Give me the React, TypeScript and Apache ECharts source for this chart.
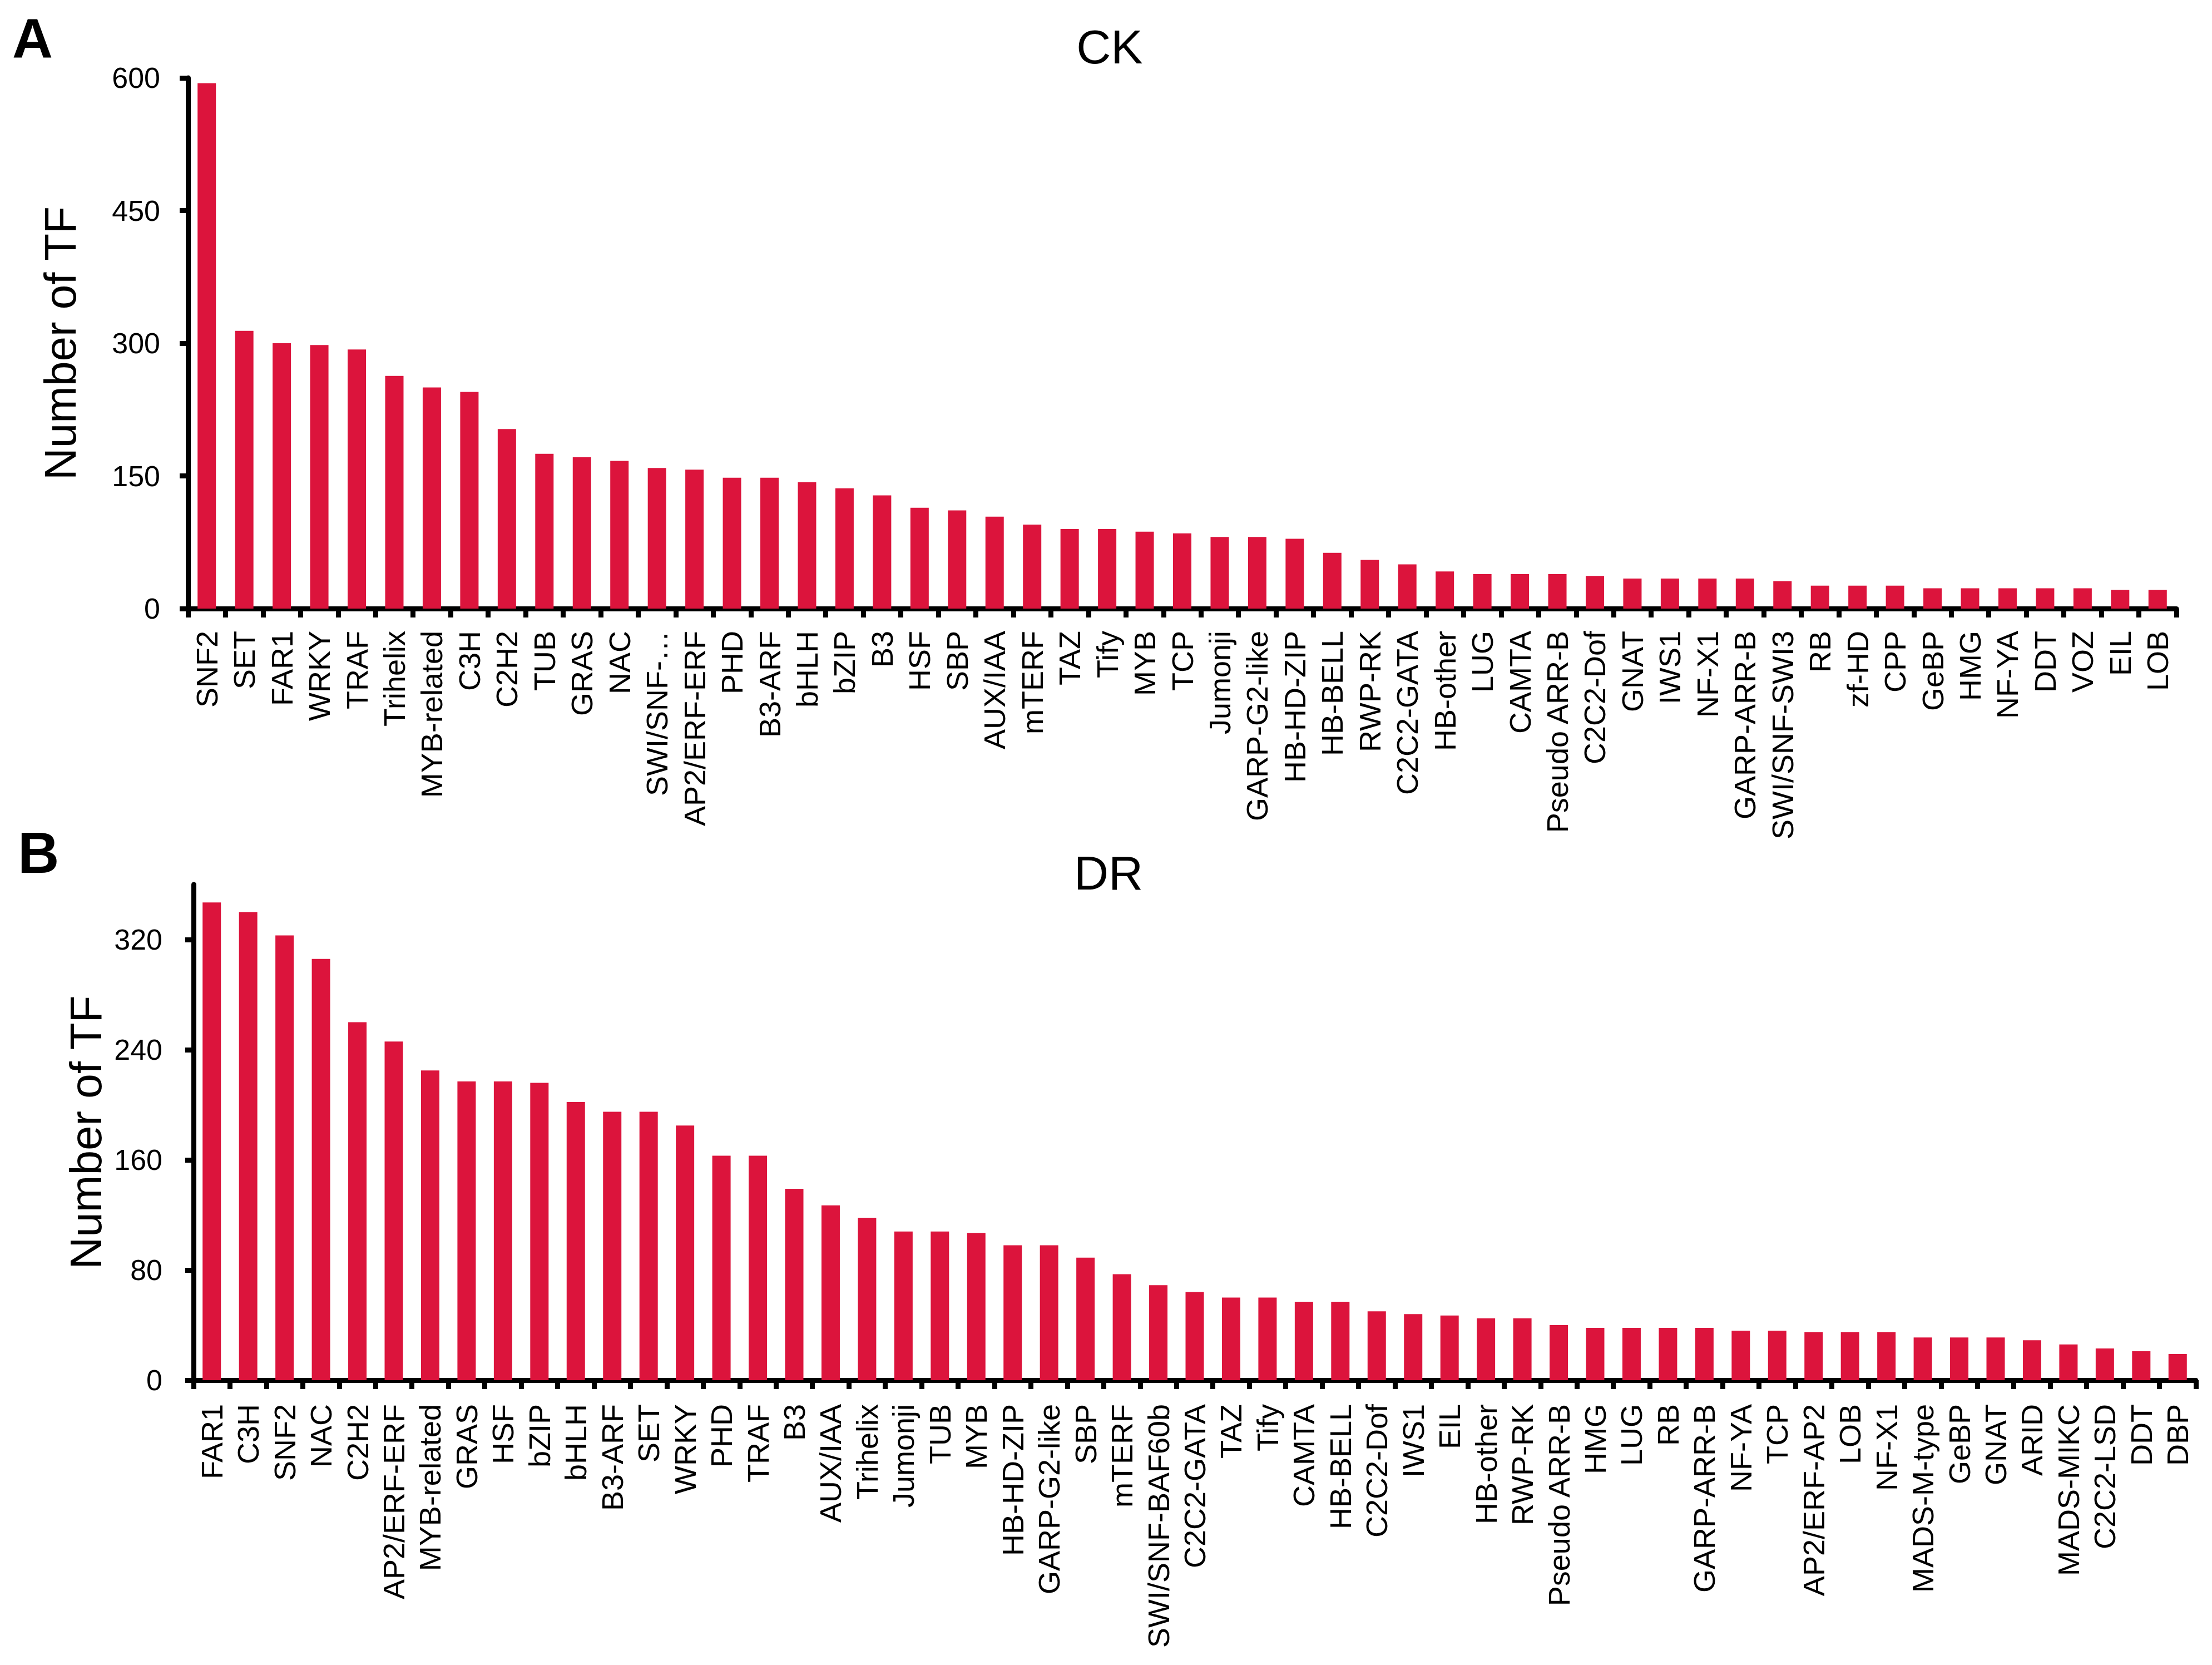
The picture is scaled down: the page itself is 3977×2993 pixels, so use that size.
import React, { useEffect, useRef } from "react";
import * as echarts from "echarts";

const ckCategories = [
  "SNF2", "SET", "FAR1", "WRKY", "TRAF", "Trihelix", "MYB-related", "C3H", "C2H2", "TUB",
  "GRAS", "NAC", "SWI/SNF-…", "AP2/ERF-ERF", "PHD", "B3-ARF", "bHLH", "bZIP", "B3", "HSF",
  "SBP", "AUX/IAA", "mTERF", "TAZ", "Tify", "MYB", "TCP", "Jumonji", "GARP-G2-like", "HB-HD-ZIP",
  "HB-BELL", "RWP-RK", "C2C2-GATA", "HB-other", "LUG", "CAMTA", "Pseudo ARR-B", "C2C2-Dof", "GNAT", "IWS1",
  "NF-X1", "GARP-ARR-B", "SWI/SNF-SWI3", "RB", "zf-HD", "CPP", "GeBP", "HMG", "NF-YA", "DDT",
  "VOZ", "EIL", "LOB",
];
const ckValues = [
  594, 314, 300, 298, 293, 263, 250, 245, 203, 175,
  171, 167, 159, 157, 148, 148, 143, 136, 128, 114,
  111, 104, 95, 90, 90, 87, 85, 81, 81, 79,
  63, 55, 50, 42, 39, 39, 39, 37, 34, 34,
  34, 34, 31, 26, 26, 26, 23, 23, 23, 23,
  23, 21, 21,
];

const drCategories = [
  "FAR1", "C3H", "SNF2", "NAC", "C2H2", "AP2/ERF-ERF", "MYB-related", "GRAS", "HSF", "bZIP",
  "bHLH", "B3-ARF", "SET", "WRKY", "PHD", "TRAF", "B3", "AUX/IAA", "Trihelix", "Jumonji",
  "TUB", "MYB", "HB-HD-ZIP", "GARP-G2-like", "SBP", "mTERF", "SWI/SNF-BAF60b", "C2C2-GATA", "TAZ", "Tify",
  "CAMTA", "HB-BELL", "C2C2-Dof", "IWS1", "EIL", "HB-other", "RWP-RK", "Pseudo ARR-B", "HMG", "LUG",
  "RB", "GARP-ARR-B", "NF-YA", "TCP", "AP2/ERF-AP2", "LOB", "NF-X1", "MADS-M-type", "GeBP", "GNAT",
  "ARID", "MADS-MIKC", "C2C2-LSD", "DDT", "DBP",
];
const drValues = [
  347, 340, 323, 306, 260, 246, 225, 217, 217, 216,
  202, 195, 195, 185, 163, 163, 139, 127, 118, 108,
  108, 107, 98, 98, 89, 77, 69, 64, 60, 60,
  57, 57, 50, 48, 47, 45, 45, 40, 38, 38,
  38, 38, 36, 36, 35, 35, 35, 31, 31, 31,
  29, 26, 23, 21, 19,
];

const ckTicks = [0, 150, 300, 450, 600];
const drTicks = [0, 80, 160, 240, 320];

const FONT = "Liberation Sans, Arial, sans-serif";
const BAR = "#DC143C";

export default function App() {
  const ref = useRef<HTMLDivElement>(null);

  useEffect(() => {
    if (!ref.current) return;
    const chart = echarts.init(ref.current, undefined, { renderer: "svg" });

    const xAxisBase = (idx: number, data: string[], margin: number) => ({
      type: "category",
      gridIndex: idx,
      data,
      boundaryGap: true,
      axisLine: { show: true, lineStyle: { color: "#000", width: 9 } },
      axisTick: { show: true, interval: 0, length: 16, lineStyle: { color: "#000", width: 9 } },
      axisLabel: {
        interval: 0,
        rotate: 90,
        margin,
        color: "#000",
        fontSize: 54,
        fontFamily: FONT,
      },
      splitLine: { show: false },
    });

    const yAxisBase = (idx: number, max: number, interval: number, ticks: number[], nameGap: number, margin: number) => ({
      type: "value",
      gridIndex: idx,
      min: 0,
      max,
      interval,
      name: "Number of TF",
      nameLocation: "middle",
      nameGap,
      nameTextStyle: { color: "#000", fontSize: 80, fontFamily: FONT },
      axisLine: { show: true, lineStyle: { color: "#000", width: 9 } },
      axisTick: { show: true, length: 15, lineStyle: { color: "#000", width: 9 }, customValues: ticks },
      axisLabel: { color: "#000", fontSize: 52, fontFamily: FONT, margin, customValues: ticks },
      splitLine: { show: false },
    });

    chart.setOption({
      animation: false,
      backgroundColor: "#fff",
      grid: [
        { left: 338, top: 140, width: 3575, height: 954, outerBoundsMode: "none" },
        { left: 348, top: 1590, width: 3600, height: 891, outerBoundsMode: "none" },
      ],
      xAxis: [xAxisBase(0, ckCategories, 40), xAxisBase(1, drCategories, 43)],
      yAxis: [
        yAxisBase(0, 600, 150, ckTicks, 190, 50),
        yAxisBase(1, 360, 80, drTicks, 153, 56),
      ],
      series: [
        { type: "bar", xAxisIndex: 0, yAxisIndex: 0, data: ckValues, barWidth: 33, itemStyle: { color: BAR } },
        { type: "bar", xAxisIndex: 1, yAxisIndex: 1, data: drValues, barWidth: 33, itemStyle: { color: BAR } },
      ],
      graphic: [
        {
          type: "text", left: 22, top: 18,
          style: { text: "A", fontSize: 101, fontWeight: "bold", fontFamily: FONT, fill: "#000" },
        },
        {
          type: "text", left: 32, top: 1482,
          style: { text: "B", fontSize: 103, fontWeight: "bold", fontFamily: FONT, fill: "#000" },
        },
        {
          type: "text", x: 1995, y: 84,
          style: { text: "CK", fontSize: 86, fontFamily: FONT, fill: "#000", align: "center", verticalAlign: "middle" },
        },
        {
          type: "text", x: 1993, y: 1569,
          style: { text: "DR", fontSize: 86, fontFamily: FONT, fill: "#000", align: "center", verticalAlign: "middle" },
        },
      ],
    });

    return () => chart.dispose();
  }, []);

  return (
    <div
      ref={ref}
      style={{ position: "absolute", left: 0, top: 0, width: 3977, height: 2993, background: "#fff" }}
    />
  );
}
